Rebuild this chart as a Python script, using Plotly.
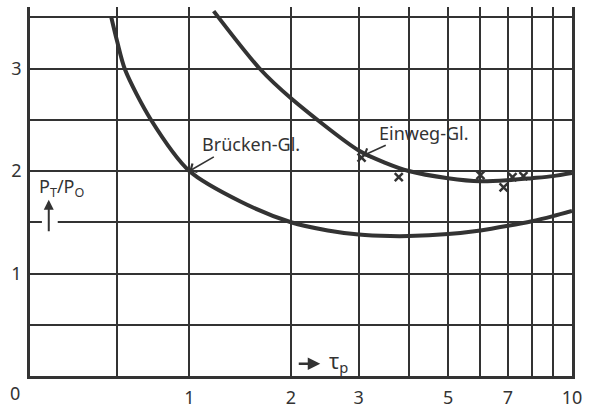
import numpy as np
import plotly.graph_objects as go

# ---- data ----
tau_bruecken = [0.465, 0.5, 0.55, 0.72, 1.0, 1.45, 2.0, 2.5, 3.0, 3.6, 4.0, 5.0, 6.0, 7.0, 8.0, 9.0, 10.0]
pt_bruecken = [3.5, 3.27, 2.99, 2.5, 2.0, 1.70, 1.5, 1.42, 1.38, 1.365, 1.365, 1.385, 1.42, 1.465, 1.51, 1.56, 1.61]

tau_einweg = [1.2, 1.64, 2.0, 3.0, 3.5, 4.0, 5.0, 6.0, 7.0, 8.0, 9.0, 10.0]
pt_einweg = [3.56, 3.0, 2.71, 2.2, 2.08, 2.0, 1.93, 1.90, 1.91, 1.93, 1.95, 1.98]

tau_meas = [3.05, 3.78, 6.0, 6.83, 7.18, 7.63]
pt_meas = [2.13, 1.94, 1.96, 1.84, 1.94, 1.95]

x_grid = [0, 0.5, 1, 2, 3, 4, 5, 6, 7, 8, 9, 10]
x_labels = ["", "", "1", "2", "3", "", "5", "", "7", "", "", "10"]
y_grid = [0, 0.5, 1, 1.5, 2, 2.5, 3, 3.5]
y_labels = ["", "", "1", "", "2", "", "3", ""]

# the tau axis of the original is an area-sine (asinh) scale
def sc(v):
    return np.arcsinh(np.asarray(v, dtype=float))

INK = "#333333"
FONT = "Noto Sans"

fig = go.Figure()
fig.add_trace(go.Scatter(x=sc(tau_bruecken), y=pt_bruecken, mode="lines",
                         line=dict(color=INK, width=4, shape="spline", smoothing=0.8),
                         showlegend=False, hoverinfo="skip"))
fig.add_trace(go.Scatter(x=sc(tau_einweg), y=pt_einweg, mode="lines",
                         line=dict(color=INK, width=4, shape="spline", smoothing=0.8),
                         showlegend=False, hoverinfo="skip"))
fig.add_trace(go.Scatter(x=sc(tau_meas), y=pt_meas, mode="markers",
                         marker=dict(symbol="x-thin", size=8, line=dict(color=INK, width=2.5)),
                         showlegend=False, hoverinfo="skip"))

ann = []
# curve labels
ann.append(dict(x=float(sc(1.55)), y=2.26, text="Brücken-Gl.", showarrow=False,
                font=dict(family=FONT, size=18, color=INK)))
ann.append(dict(x=float(sc(1.0)), y=2.0, text="", showarrow=True, arrowhead=4,
                arrowsize=1.2, arrowwidth=1.6, arrowcolor=INK, ax=26, ay=-15))
ann.append(dict(x=float(sc(4.37)), y=2.37, text="Einweg-Gl.", showarrow=False,
                font=dict(family=FONT, size=18, color=INK)))
ann.append(dict(x=float(sc(3.08)), y=2.15, text="", showarrow=True, arrowhead=4,
                arrowsize=1.2, arrowwidth=1.6, arrowcolor=INK, ax=24, ay=-11))
# axis captions
ann.append(dict(x=float(sc(0.176)), y=1.84, text="P<sub>T</sub>/P<sub>O</sub>", showarrow=False,
                font=dict(family=FONT, size=18, color=INK)))
ann.append(dict(x=float(sc(0.104)), y=1.72, text="", showarrow=True, arrowhead=2,
                arrowsize=1.0, arrowwidth=2, arrowcolor=INK, ax=0, ay=33))
ann.append(dict(x=float(sc(2.39)), y=0.12, text="", showarrow=True, arrowhead=2,
                arrowsize=1.0, arrowwidth=2.5, arrowcolor=INK, ax=-23, ay=0))
ann.append(dict(x=float(sc(2.66)), y=0.14, text="τ<sub>p</sub>", showarrow=False,
                font=dict(family=FONT, size=21, color=INK)))
# origin label
ann.append(dict(x=0, y=0, text="0", showarrow=False, xshift=-15, yshift=-17,
                font=dict(family=FONT, size=18, color=INK)))

# small break in the 1.5 grid line where the P_T/P_O arrow passes
shapes = [dict(type="line", xref="x", yref="y", x0=float(sc(0.066)), x1=float(sc(0.154)),
               y0=1.5, y1=1.5, line=dict(color="white", width=4), layer="above")]

fig.update_layout(
    width=589, height=416,
    margin=dict(l=30, r=12, t=7, b=28),
    paper_bgcolor="white", plot_bgcolor="white",
    annotations=ann, shapes=shapes,
    xaxis=dict(range=[0, float(sc(10))], tickmode="array",
               tickvals=[float(v) for v in sc(x_grid)], ticktext=x_labels,
               showgrid=True, gridcolor=INK, gridwidth=2,
               showline=True, linecolor=INK, linewidth=2.5, mirror=False,
               zeroline=False, ticks="outside", ticklen=4, tickcolor="rgba(0,0,0,0)",
               tickfont=dict(family=FONT, size=18, color=INK)),
    yaxis=dict(range=[0, 3.6], tickmode="array", tickvals=y_grid, ticktext=y_labels,
               showgrid=True, gridcolor=INK, gridwidth=2,
               showline=True, linecolor=INK, linewidth=2.5, mirror=True,
               zeroline=False, ticks="outside", ticklen=2, tickcolor="rgba(0,0,0,0)",
               tickfont=dict(family=FONT, size=18, color=INK)),
)

fig.write_html("out.html", config={"displayModeBar": False},
               post_script="document.body.style.margin='0';")
